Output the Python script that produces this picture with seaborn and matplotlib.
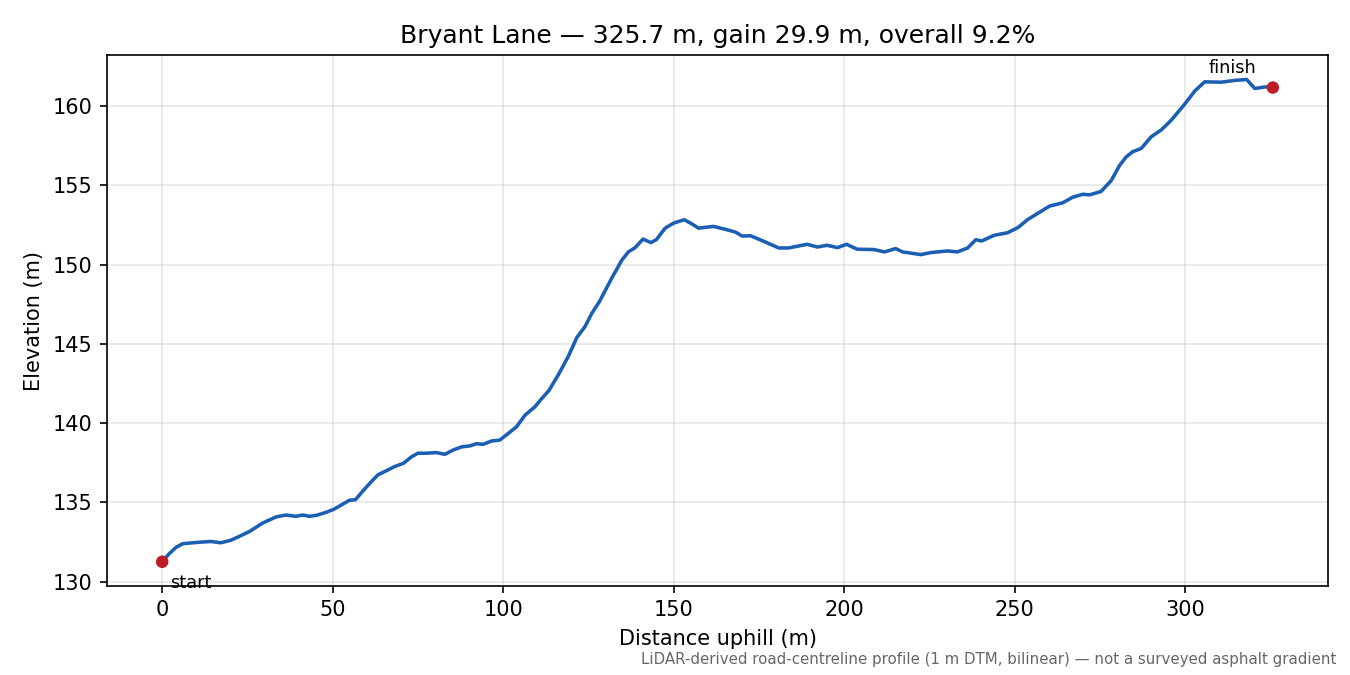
import matplotlib
matplotlib.use("Agg")
import matplotlib.pyplot as plt
import seaborn as sns
import pandas as pd

distance_m = [0, 2, 4, 6, 9, 12, 14.3, 17.2, 20, 22.1, 25.6, 29.5, 33.4, 36.3, 39.2, 41.2,
              43.2, 45.2, 48.1, 50.5, 52.5, 54.9, 56.7, 58.9, 61.3, 63.3, 65.7, 68.2, 70.8,
              73.1, 75.0, 77.5, 80.4, 82.9, 85.3, 87.8, 90.2, 92.2, 94.1, 96.6, 99.0, 101.5,
              103.9, 106.4, 109.3, 111.3, 113.4, 116.2, 119.1, 121.6, 124.0, 126.0, 128.2,
              130.4, 132.3, 134.8, 136.7, 138.7, 141.0, 143.3, 144.9, 147.5, 150.0, 153.1,
              154.9, 157.3, 161.7, 165.6, 168.1, 170.1, 172.5, 176.4, 180.8, 183.7, 189.1,
              192.1, 195.0, 198.0, 200.7, 203.8, 208.7, 211.8, 215.1, 217.1, 222.5, 225.4,
              230.3, 233.2, 236.2, 238.6, 240.3, 244.0, 247.9, 250.9, 253.8, 256.2, 260.2,
              264.1, 267.0, 270.0, 271.9, 275.3, 278.3, 280.7, 282.7, 284.6, 287.1, 290.0,
              293.0, 295.9, 299.8, 302.8, 305.7, 310.6, 314.5, 318.0, 320.4, 323.4, 325.7]
elevation_m = [131.25, 131.75, 132.15, 132.39, 132.45, 132.5, 132.53, 132.45, 132.6, 132.8,
               133.16, 133.7, 134.08, 134.2, 134.12, 134.2, 134.12, 134.18, 134.37, 134.58,
               134.83, 135.13, 135.17, 135.73, 136.3, 136.74, 136.99, 137.26, 137.47, 137.87,
               138.1, 138.1, 138.14, 138.03, 138.3, 138.5, 138.56, 138.7, 138.66, 138.87,
               138.93, 139.35, 139.77, 140.5, 141.03, 141.55, 142.05, 143.06, 144.21, 145.4,
               146.09, 146.93, 147.66, 148.56, 149.33, 150.28, 150.8, 151.07, 151.61, 151.39,
               151.57, 152.3, 152.62, 152.83, 152.62, 152.3, 152.41, 152.2, 152.05, 151.8,
               151.82, 151.47, 151.05, 151.05, 151.28, 151.11, 151.22, 151.07, 151.28, 150.97,
               150.95, 150.8, 151.01, 150.8, 150.63, 150.76, 150.86, 150.8, 151.05, 151.57,
               151.49, 151.85, 152.01, 152.33, 152.84, 153.16, 153.69, 153.9, 154.25, 154.44,
               154.4, 154.61, 155.3, 156.24, 156.8, 157.12, 157.33, 158.06, 158.5, 159.11,
               160.11, 160.95, 161.53, 161.51, 161.62, 161.68, 161.11, 161.21, 161.17]

endpoint_labels = ["start", "finish"]
title_text = "Bryant Lane \u2014 325.7 m, gain 29.9 m, overall 9.2%"
x_label = "Distance uphill (m)"
y_label = "Elevation (m)"
footnote = "LiDAR-derived road-centreline profile (1 m DTM, bilinear) \u2014 not a surveyed asphalt gradient"

df = pd.DataFrame({"distance": distance_m, "elevation": elevation_m})
ends = df.iloc[[0, -1]].copy()
ends["label"] = endpoint_labels

fig, ax = plt.subplots(figsize=(9, 4.5), dpi=150)
fig.subplots_adjust(left=0.079, right=0.984, top=0.918, bottom=0.132)

sns.lineplot(data=df, x="distance", y="elevation", ax=ax, color="#1a5fb4", linewidth=1.7)
sns.scatterplot(data=ends, x="distance", y="elevation", ax=ax, color="#c01c28",
                s=36, edgecolor="none", zorder=3)

ax.annotate(ends["label"].iloc[0], (ends["distance"].iloc[0], ends["elevation"].iloc[0]),
            xytext=(4, -6), textcoords="offset points", ha="left", va="top", fontsize=8.5)
ax.annotate(ends["label"].iloc[1], (ends["distance"].iloc[1], ends["elevation"].iloc[1]),
            xytext=(-8, 5), textcoords="offset points", ha="right", va="bottom", fontsize=8.5)

ax.grid(True, alpha=0.3)
ax.set_title(title_text, fontsize=12)
ax.set_xlabel(x_label)
ax.set_ylabel(y_label)
ax.set_yticks([130, 135, 140, 145, 150, 155, 160])
ax.set_xticks([0, 50, 100, 150, 200, 250, 300])
ax.margins(x=0.05, y=0.05)

fig.text(0.99, 0.012, footnote, ha="right", va="bottom", fontsize=7.2, color="#666666")

fig.savefig("out.png", dpi=150)
